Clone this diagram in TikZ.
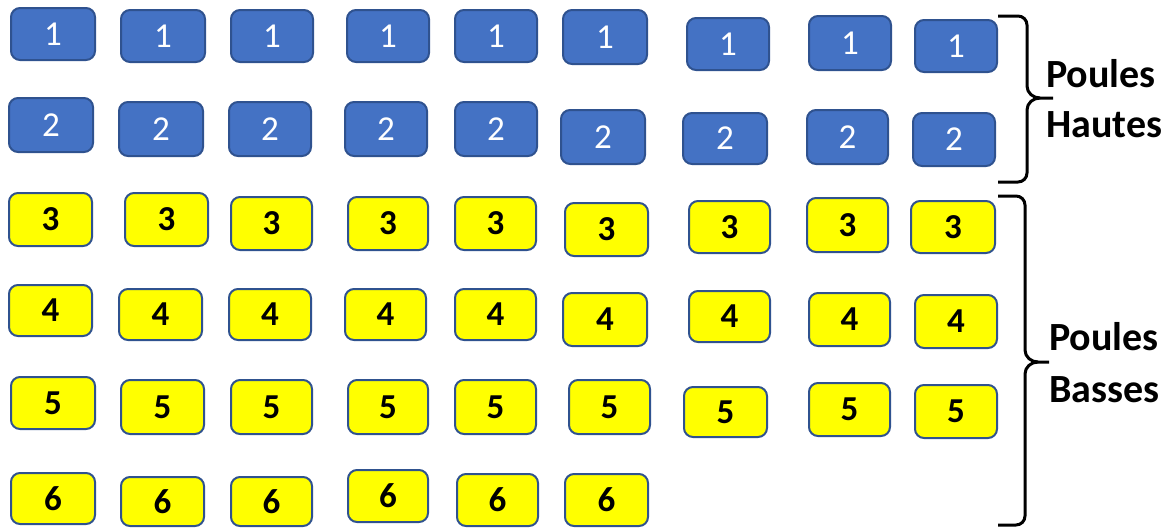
\documentclass[tikz,border=0pt]{standalone}
\usepackage{fontspec}
\setmainfont{Carlito}
\definecolor{pblue}{HTML}{4472C4}
\definecolor{pedge}{HTML}{2F528F}
\definecolor{pyellow}{HTML}{FFFF00}
\tikzset{
  pbox/.style={rectangle, rounded corners=9pt, draw=pedge, line width=2pt, inner sep=0pt},
  bluebox/.style={pbox, fill=pblue, text=white, font=\fontsize{35}{40}\selectfont},
  yelbox/.style={pbox, fill=pyellow, text=black, font=\fontsize{35}{40}\selectfont\bfseries},
  lbl/.style={anchor=base west, inner sep=0pt, font=\fontsize{40}{50}\selectfont\bfseries},
  bracepath/.style={draw=black, line width=3pt, line join=round}
}
\newcommand{\bx}[7]{\node[#2, minimum width={(#5-#3-2)*1pt}, minimum height={(#6-#4-2)*1pt}] (#1) at ({(#3+#5)/2},{(#4+#6)/2}) {#7};}
\begin{document}
\begin{tikzpicture}[x=1pt,y=-1pt]
\useasboundingbox (0,0) rectangle (1171,528);
% row 1
\bx{a1}{bluebox}{10}{7}{96}{61}{1}
\bx{a2}{bluebox}{120}{9}{206}{63}{1}
\bx{a3}{bluebox}{230}{9}{314}{63}{1}
\bx{a4}{bluebox}{346}{9}{430}{63}{1}
\bx{a5}{bluebox}{454}{9}{538}{63}{1}
\bx{a6}{bluebox}{562}{9}{648}{65}{1}
\bx{a7}{bluebox}{686}{17}{770}{71}{1}
\bx{a8}{bluebox}{808}{15}{892}{71}{1}
\bx{a9}{bluebox}{914}{19}{998}{73}{1}
% row 2
\bx{b1}{bluebox}{8}{97}{94}{153}{2}
\bx{b2}{bluebox}{118}{101}{204}{157}{2}
\bx{b3}{bluebox}{228}{101}{312}{157}{2}
\bx{b4}{bluebox}{344}{101}{428}{157}{2}
\bx{b5}{bluebox}{454}{101}{538}{157}{2}
\bx{b6}{bluebox}{560}{109}{646}{165}{2}
\bx{b7}{bluebox}{682}{112}{768}{165}{2}
\bx{b8}{bluebox}{806}{109}{889}{165}{2}
\bx{b9}{bluebox}{912}{112}{996}{167}{2}
% row 3
\bx{c1}{yelbox}{8}{192}{93}{247}{3}
\bx{c2}{yelbox}{124}{192}{209}{247}{3}
\bx{c3}{yelbox}{230}{196}{313}{251}{3}
\bx{c4}{yelbox}{347}{196}{429}{251}{3}
\bx{c5}{yelbox}{454}{196}{537}{251}{3}
\bx{c6}{yelbox}{564}{202}{649}{257}{3}
\bx{c7}{yelbox}{688}{200}{771}{254}{3}
\bx{c8}{yelbox}{806}{197}{889}{253}{3}
\bx{c9}{yelbox}{910}{200}{996}{254}{3}
% row 4
\bx{d1}{yelbox}{8}{284}{93}{337}{4}
\bx{d2}{yelbox}{118}{288}{203}{341}{4}
\bx{d3}{yelbox}{228}{288}{312}{341}{4}
\bx{d4}{yelbox}{344}{288}{427}{341}{4}
\bx{d5}{yelbox}{454}{288}{537}{341}{4}
\bx{d6}{yelbox}{562}{292}{648}{347}{4}
\bx{d7}{yelbox}{688}{290}{771}{343}{4}
\bx{d8}{yelbox}{808}{292}{891}{347}{4}
\bx{d9}{yelbox}{914}{294}{998}{349}{4}
% row 5
\bx{e1}{yelbox}{10}{376}{96}{430}{5}
\bx{e2}{yelbox}{120}{379}{205}{435}{5}
\bx{e3}{yelbox}{230}{379}{313}{435}{5}
\bx{e4}{yelbox}{347}{379}{429}{435}{5}
\bx{e5}{yelbox}{454}{379}{537}{435}{5}
\bx{e6}{yelbox}{568}{379}{651}{435}{5}
\bx{e7}{yelbox}{683}{386}{768}{438}{5}
\bx{e8}{yelbox}{808}{382}{891}{437}{5}
\bx{e9}{yelbox}{914}{384}{998}{439}{5}
% row 6
\bx{f1}{yelbox}{10}{472}{96}{525}{6}
\bx{f2}{yelbox}{120}{476}{205}{527}{6}
\bx{f3}{yelbox}{230}{476}{313}{527}{6}
\bx{f4}{yelbox}{347}{469}{429}{523}{6}
\bx{f5}{yelbox}{456}{473}{539}{527}{6}
\bx{f6}{yelbox}{564}{473}{649}{527}{6}
% braces
\draw[bracepath] (998,16) -- (1018,16) to[out=0,in=90] (1027,25) -- (1027,86)
  to[out=-90,in=180] (1040,98) -- (1053,98);
\draw[bracepath] (1040,98) to[out=180,in=90] (1027,110) -- (1027,173)
  to[out=-90,in=0] (1018,182) -- (998,182);
\draw[bracepath] (998,196) -- (1016,196) to[out=0,in=90] (1025,205) -- (1025,350)
  to[out=-90,in=180] (1038,362) -- (1049,362);
\draw[bracepath] (1038,362) to[out=180,in=90] (1025,374) -- (1025,516)
  to[out=-90,in=0] (1016,525) -- (998,525);
% labels
\node[lbl] (h1) at (1046,87) {Poules};
\node[lbl] (h2) at (1046,137) {Hautes};
\node[lbl] (l1) at (1049,350) {Poules};
\node[lbl] (l2) at (1049,402) {Basses};
\end{tikzpicture}
\end{document}
